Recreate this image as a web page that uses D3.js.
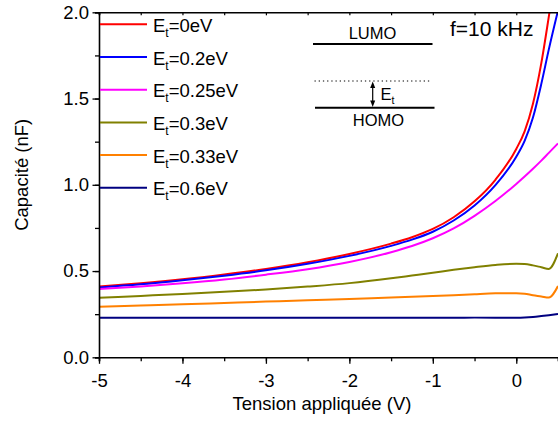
<!DOCTYPE html>
<html><head><meta charset="utf-8">
<script src="https://cdn.jsdelivr.net/npm/d3@7"></script>
<style>
html,body{margin:0;padding:0;background:#fff;}
svg{display:block;font-family:"Liberation Sans",Arial,sans-serif;}
</style></head>
<body><svg id="c" width="558" height="421"></svg>
<script>
// ---- data ----
const voltage = [-5,-4.5,-4,-3.5,-3,-2.5,-2,-1.5,-1.25,-1,-0.75,-0.5,-0.25,0,0.1,0.2,0.3,0.39,0.5];
const c_0eV    = [0.410,0.429,0.452,0.480,0.512,0.551,0.599,0.659,0.696,0.744,0.812,0.904,1.029,1.208,1.310,1.470,1.705,1.975,2.330];
const c_02eV   = [0.405,0.423,0.446,0.473,0.504,0.542,0.588,0.646,0.682,0.728,0.793,0.880,0.998,1.163,1.255,1.390,1.585,1.785,2.010];
const c_025eV  = [0.396,0.411,0.429,0.451,0.479,0.511,0.553,0.609,0.645,0.690,0.747,0.820,0.906,1.005,1.048,1.093,1.140,1.185,1.240];
const c_03eV   = [0.345,0.356,0.367,0.380,0.393,0.410,0.430,0.458,0.474,0.490,0.507,0.522,0.535,0.542,0.541,0.533,0.522,0.512,0.603];
const c_033eV  = [0.293,0.300,0.307,0.315,0.323,0.331,0.338,0.347,0.351,0.355,0.360,0.366,0.371,0.372,0.369,0.360,0.353,0.346,0.413];
const c_06eV   = [0.229,0.229,0.229,0.229,0.229,0.229,0.229,0.229,0.229,0.229,0.229,0.230,0.230,0.230,0.231,0.234,0.239,0.244,0.251];
const seriesNames = ["0eV","0.2eV","0.25eV","0.3eV","0.33eV","0.6eV"];
const seriesValues = [c_0eV,c_02eV,c_025eV,c_03eV,c_033eV,c_06eV];
const seriesColors = ["#ff0000","#0000ff","#ff00ff","#808000","#ff8000","#000080"];
const xTicks = [-5,-4,-3,-2,-1,0];
const yTicks = [0,0.5,1.0,1.5,2.0];

// ---- layout ----
const svg = d3.select("#c");
const L = 99, R = 558, T = 12.3, B = 357.3;
const x = d3.scaleLinear().domain([-5,0.5]).range([L,R]);
const y = d3.scaleLinear().domain([0,2]).range([B,T]);
const FS = 18.5;

svg.append("defs").append("clipPath").attr("id","clip")
  .append("rect").attr("x",L).attr("y",T).attr("width",R-L).attr("height",B-T);

// curves
const line = d3.line().x(d=>x(d[0])).y(d=>y(d[1])).curve(d3.curveMonotoneX);
const gCurves = svg.append("g").attr("clip-path","url(#clip)");
seriesValues.forEach((vals,i)=>{
  gCurves.append("path").datum(voltage.map((v,j)=>[v,vals[j]]))
    .attr("d",line).attr("fill","none").attr("stroke",seriesColors[i]).attr("stroke-width",2);
});

// axes
const minorX = d3.range(-5,0.51,0.5);
const minorY = d3.range(0,2.01,0.25);
const gx = svg.append("g").attr("transform",`translate(0,${B})`);
gx.call(d3.axisBottom(x).tickValues(minorX).tickSize(4).tickFormat(""));
gx.selectAll(".tick line").attr("stroke-width",1.3);
gx.select(".domain").attr("stroke-width",1.6);
const gx2 = svg.append("g").attr("transform",`translate(0,${B})`);
gx2.call(d3.axisBottom(x).tickValues(xTicks).tickSize(6.5).tickFormat(d=>String(d)));
gx2.selectAll(".tick line").attr("stroke-width",1.3);
gx2.selectAll("text").attr("font-size",FS).attr("font-family","Liberation Sans, Arial, sans-serif")
  .attr("fill","#000").attr("dy",null).attr("y",29.5);
gx2.select(".domain").remove();

const gy = svg.append("g").attr("transform",`translate(${L},0)`);
gy.call(d3.axisLeft(y).tickValues(minorY).tickSize(4).tickFormat(""));
gy.selectAll(".tick line").attr("stroke-width",1.3);
gy.select(".domain").attr("stroke-width",1.6);
const gy2 = svg.append("g").attr("transform",`translate(${L},0)`);
gy2.call(d3.axisLeft(y).tickValues(yTicks).tickSize(6.5).tickPadding(3.5).tickFormat(d3.format(".1f")));
gy2.selectAll(".tick line").attr("stroke-width",1.3);
gy2.selectAll("text").attr("font-size",FS).attr("font-family","Liberation Sans, Arial, sans-serif").attr("fill","#000");
gy2.select(".domain").remove();

// top frame with inward ticks
const gt = svg.append("g").attr("transform",`translate(0,${T})`);
gt.call(d3.axisTop(x).tickValues(minorX).tickSize(-3).tickFormat(""));
gt.selectAll(".tick line").attr("stroke-width",1.2);
gt.select(".domain").attr("stroke-width",1.6);

// axis titles
svg.append("text").attr("x",322).attr("y",410).attr("text-anchor","middle")
  .attr("font-size",FS).text("Tension appliquée (V)");
svg.append("text").attr("transform",`translate(28,${(T+B)/2 - 10}) rotate(-90)`)
  .attr("text-anchor","middle").attr("font-size",FS).text("Capacité (nF)");

// legend
seriesNames.forEach((n,i)=>{
  const ly = 24.3 + i*32.7;
  svg.append("line").attr("x1",100).attr("x2",147).attr("y1",ly).attr("y2",ly)
    .attr("stroke",seriesColors[i]).attr("stroke-width",2);
  const t = svg.append("text").attr("x",153).attr("y",ly+7.5).attr("font-size",FS);
  t.append("tspan").text("E");
  t.append("tspan").attr("font-size",12).attr("dy",5).text("t");
  t.append("tspan").attr("dy",-5).text("="+n);
});

// f label
svg.append("text").attr("x",450).attr("y",36).attr("font-size",21).text("f=10 kHz");

// inset energy diagram
svg.append("text").attr("x",372.5).attr("y",38.5).attr("text-anchor","middle").attr("font-size",16.5).text("LUMO");
svg.append("line").attr("x1",313).attr("x2",432.5).attr("y1",44).attr("y2",44).attr("stroke","#000").attr("stroke-width",2);
svg.append("line").attr("x1",314.5).attr("x2",430).attr("y1",81).attr("y2",81).attr("stroke","#000")
  .attr("stroke-width",1).attr("stroke-dasharray","1.3,2.9");
svg.append("line").attr("x1",315).attr("x2",434.5).attr("y1",107.7).attr("y2",107.7).attr("stroke","#000").attr("stroke-width",2);
svg.append("text").attr("x",378.5).attr("y",125.5).attr("text-anchor","middle").attr("font-size",16.5).text("HOMO");
// double arrow
const ax = 372.7;
svg.append("line").attr("x1",ax).attr("x2",ax).attr("y1",85).attr("y2",104).attr("stroke","#000").attr("stroke-width",1.2);
svg.append("path").attr("d",`M${ax},81.5 L${ax-2.5},88 L${ax+2.5},88 Z`).attr("fill","#000");
svg.append("path").attr("d",`M${ax},107 L${ax-2.5},100.5 L${ax+2.5},100.5 Z`).attr("fill","#000");
const et = svg.append("text").attr("x",380.5).attr("y",99.5).attr("font-size",16.5);
et.append("tspan").text("E");
et.append("tspan").attr("font-size",10.5).attr("dy",4).text("t");
</script></body></html>
